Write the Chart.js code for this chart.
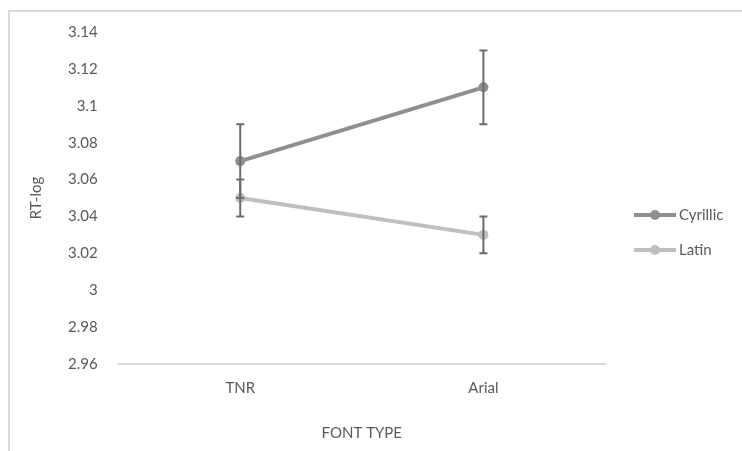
<!DOCTYPE html>
<html>
<head>
<meta charset="utf-8">
<script src="https://cdn.jsdelivr.net/npm/chart.js@4/dist/chart.umd.min.js"></script>
<style>
  html, body { margin: 0; padding: 0; background: #fff; }
  #wrap { position: relative; width: 742px; height: 451px; overflow: hidden; }
  #frame { position: absolute; left: 8px; top: 10px; width: 800px; height: 500px;
           border-left: 2px solid #d9d9d9; border-top: 2px solid #d9d9d9; }
  canvas { position: absolute; left: 0; top: 0; }
</style>
</head>
<body>
<div id="wrap">
  <div id="frame"></div>
  <canvas id="myChart" width="742" height="451"></canvas>
</div>
<script>
// categories and values
const categories = ['TNR', 'Arial'];
const cyrillic = [3.07, 3.11];
const cyrillicErr = [0.02, 0.02];
const latin = [3.05, 3.03];
const latinErr = [0.01, 0.01];
const yTicks = [2.96, 2.98, 3, 3.02, 3.04, 3.06, 3.08, 3.1, 3.12, 3.14];
const yTickLabels = ['2.96', '2.98', '3', '3.02', '3.04', '3.06', '3.08', '3.1', '3.12', '3.14'];

const textColor = '#595959';
const fontFamily = 'Lato, "Open Sans", sans-serif';

// error bars, drawn over the lines
const errorBars = {
    id: 'errorBars',
    afterDatasetsDraw(chart) {
        const ctx = chart.ctx;
        const y = chart.scales.y;
        chart.data.datasets.forEach((ds, i) => {
            const meta = chart.getDatasetMeta(i);
            ctx.save();
            ctx.strokeStyle = '#6b6b6b';
            ctx.lineWidth = 2;
            meta.data.forEach((pt, j) => {
                const v = ds.data[j];
                const e = ds.errors[j];
                const top = y.getPixelForValue(v + e);
                const bot = y.getPixelForValue(v - e);
                ctx.beginPath();
                ctx.moveTo(pt.x, top);
                ctx.lineTo(pt.x, bot);
                ctx.moveTo(pt.x - 4, top);
                ctx.lineTo(pt.x + 4, top);
                ctx.moveTo(pt.x - 4, bot);
                ctx.lineTo(pt.x + 4, bot);
                ctx.stroke();
            });
            ctx.restore();
        });
    }
};

// legend on the right like in the excel chart
const sideLegend = {
    id: 'sideLegend',
    afterDraw(chart) {
        const ctx = chart.ctx;
        const x0 = 634;
        let yy = 215;
        chart.data.datasets.forEach(ds => {
            ctx.save();
            ctx.strokeStyle = ds.borderColor;
            ctx.lineWidth = 4;
            ctx.beginPath();
            ctx.moveTo(x0, yy);
            ctx.lineTo(x0 + 42, yy);
            ctx.stroke();
            ctx.fillStyle = ds.borderColor;
            ctx.beginPath();
            ctx.arc(x0 + 21, yy, 5, 0, Math.PI * 2);
            ctx.fill();
            ctx.fillStyle = textColor;
            ctx.font = '15px ' + fontFamily;
            ctx.textBaseline = 'middle';
            ctx.fillText(ds.label, x0 + 45, yy);
            ctx.restore();
            yy += 35;
        });
    }
};

const ctx = document.getElementById('myChart').getContext('2d');
const myChart = new Chart(ctx, {
    type: 'line',
    data: {
        labels: categories,
        datasets: [{
            label: 'Cyrillic',
            data: cyrillic,
            errors: cyrillicErr,
            borderColor: '#8f8f8f',
            backgroundColor: '#8f8f8f',
            borderWidth: 4,
            pointRadius: 5,
            pointBorderWidth: 0
        }, {
            label: 'Latin',
            data: latin,
            errors: latinErr,
            borderColor: '#bfbfbf',
            backgroundColor: '#bfbfbf',
            borderWidth: 4,
            pointRadius: 5,
            pointBorderWidth: 0
        }]
    },
    options: {
        responsive: false,
        animation: false,
        layout: { padding: { top: 32, right: 137, bottom: 5, left: 23 } },
        plugins: {
            legend: { display: false },
            tooltip: { enabled: false }
        },
        scales: {
            x: {
                offset: true,
                grid: { display: false },
                border: { display: true, color: '#d9d9d9', width: 2 },
                ticks: { color: textColor, font: { family: fontFamily, size: 15 }, padding: 7 },
                title: { display: true, text: 'FONT TYPE', color: textColor,
                         font: { family: fontFamily, size: 15 }, padding: { top: 20 } }
            },
            y: {
                min: 2.96,
                max: 3.14,
                afterBuildTicks(scale) {
                    scale.ticks = yTicks.map(v => ({ value: v }));
                },
                grid: { display: false },
                border: { display: false },
                ticks: {
                    color: textColor,
                    font: { family: fontFamily, size: 15 },
                    padding: 13,
                    callback(value, index) { return yTickLabels[index]; }
                },
                title: { display: true, text: 'RT-log', color: textColor,
                         font: { family: fontFamily, size: 15 }, padding: { bottom: 10 } }
            }
        }
    },
    plugins: [errorBars, sideLegend]
});
</script>
</body>
</html>
